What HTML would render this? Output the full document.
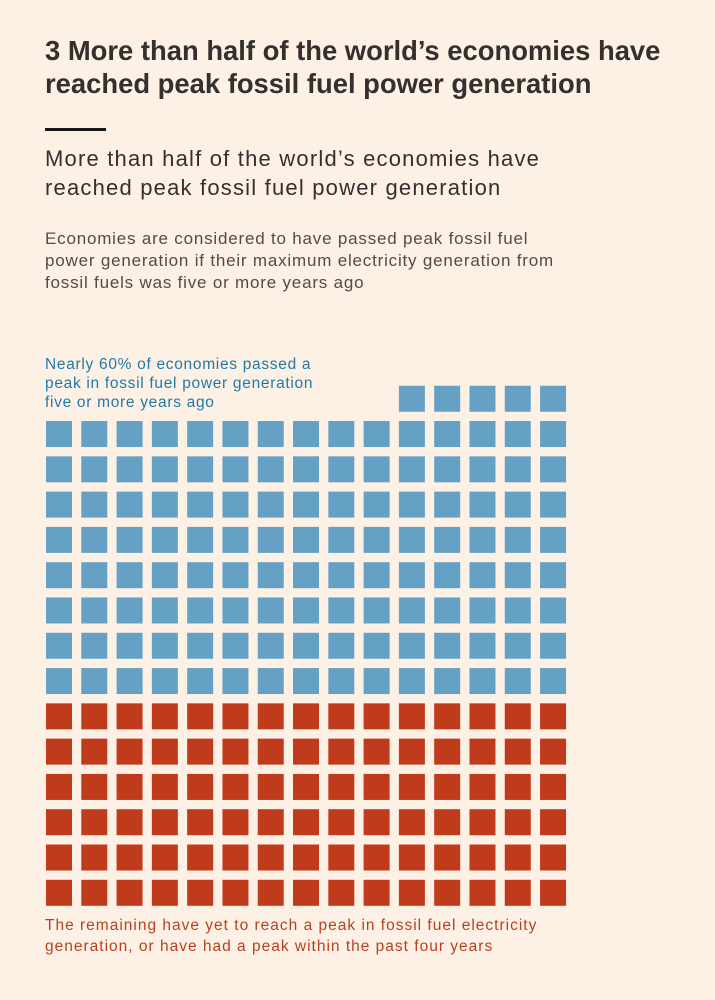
<!DOCTYPE html>
<html><head><meta charset="utf-8"><style>
body{margin:0;background:#fdf1e6;width:715px;height:1000px;overflow:hidden;font-family:"Liberation Sans",sans-serif;position:relative}
.t{position:absolute;left:45px;margin:0;white-space:nowrap}
</style></head><body>
<h1 class="t" style="top:34px;font-size:27.4px;line-height:33px;font-weight:bold;color:#33302e">3 More than half of the world’s economies have<br>reached peak fossil fuel power generation</h1>
<div class="t" style="top:128px;width:61px;height:3px;background:#1a1817"></div>
<div class="t" style="top:144px;font-size:22px;letter-spacing:1.2px;line-height:29px;color:#33302e">More than half of the world’s economies have<br>reached peak fossil fuel power generation</div>
<div class="t" style="top:228px;font-size:17px;letter-spacing:0.8px;line-height:22px;color:#4f4c49">Economies are considered to have passed peak fossil fuel<br>power generation if their maximum electricity generation from<br>fossil fuels was five or more years ago</div>
<div class="t" style="top:355px;font-size:15.5px;letter-spacing:0.7px;line-height:19px;color:#1f7aa6">Nearly 60% of economies passed a<br>peak in fossil fuel power generation<br>five or more years ago</div>
<div class="t" style="top:915px;font-size:15.5px;letter-spacing:1px;line-height:21px;color:#b9401f">The remaining have yet to reach a peak in fossil fuel electricity<br>generation, or have had a peak within the past four years</div>
<svg id="chart" width="715" height="1000" style="position:absolute;left:0;top:0"></svg>
<script>
const categories=["passed-peak","not-passed-peak"];
const counts=[125,90];
const colors=["#65a1c5","#c03a1c"];
const svg=document.getElementById('chart');
const cols=15,x0=46,yBottom=879.8,pitch=35.29,size=26;
function xPos(c){return x0+c*pitch;}
function yPos(r){return yBottom-r*pitch;}
let idx=0;
for(let k=counts.length-1;k>=0;k--){
  for(let n=0;n<counts[k];n++){
    const row=Math.floor(idx/cols), col=cols-1-(idx%cols);
    const r=document.createElementNS('http://www.w3.org/2000/svg','rect');
    r.setAttribute('x',xPos(col));r.setAttribute('y',yPos(row));
    r.setAttribute('width',size);r.setAttribute('height',size);
    r.setAttribute('fill',colors[k]);
    
    
    svg.appendChild(r);idx++;
  }
}
</script>
</body></html>
